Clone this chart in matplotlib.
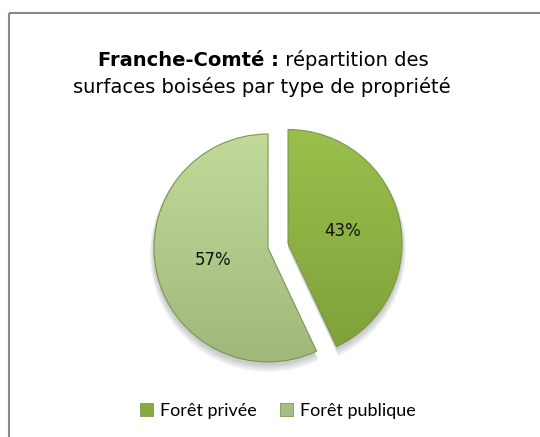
import matplotlib
matplotlib.use("Agg")
import matplotlib.pyplot as plt
import numpy as np
from matplotlib.patches import Patch
from matplotlib.colors import LinearSegmentedColormap

labels = ["Forêt privée", "Forêt publique"]
values = [43, 57]
pct_labels = ["43%", "57%"]
title_bold = "Franche-Comté :"
title_rest = " répartition des"
title_line2 = "surfaces boisées par type de propriété"

top_colors = ["#9cc04c", "#c3dc9a"]
bottom_colors = ["#7b9f38", "#9fb67a"]
legend_colors = ["#86ab40", "#a8bf84"]

W, H = 540, 437
fig = plt.figure(figsize=(W / 100, H / 100), dpi=100)
ax = fig.add_axes([0, 0, 1, 1])
ax.set_xlim(0, W)
ax.set_ylim(0, H)
ax.axis("off")

# frame
ax.plot([9, 9], [0, H - 13], color="#8a8a8a", lw=1.5, solid_capstyle="butt")
ax.plot([9, W], [H - 13, H - 13], color="#8a8a8a", lw=1.5, solid_capstyle="butt")

cx, cy, R = 268, H - 248, 114
expl = [0.18 * R, 0]

# soft shadow
for k in range(4):
    ax.pie(values, startangle=90, counterclock=False, explode=expl,
           radius=R + 1 + k, center=(cx, cy - 3 - k), frame=True,
           wedgeprops=dict(facecolor="#000000", alpha=0.05, linewidth=0))

wedges, texts, autotexts = ax.pie(
    values, startangle=90, counterclock=False, explode=expl,
    radius=R, center=(cx, cy), frame=True, autopct=lambda p: "",
    pctdistance=0.49,
    wedgeprops=dict(facecolor="none", linewidth=0.8, edgecolor="#7a9650"))

for w, t, tc, bc, at in zip(wedges, pct_labels, top_colors, bottom_colors, autotexts):
    cmap = LinearSegmentedColormap.from_list("g", [bc, tc])
    grad = np.linspace(0, 1, 256).reshape(-1, 1)
    im = ax.imshow(grad, cmap=cmap, origin="lower", aspect="auto",
                   extent=[cx - 2 * R, cx + 2 * R, cy - R - 10, cy + R + 10],
                   interpolation="bilinear", zorder=1)
    im.set_clip_path(w)
    w.set_zorder(2)
    at.set_text(t)
    at.set_fontsize(12)
    at.set_color("#111111")
    at.set_zorder(3)

ax.set_xlim(0, W)
ax.set_ylim(0, H)
ax.axis("off")

# title
fig.canvas.draw()
r = fig.canvas.get_renderer()
t1 = ax.text(0, H - 66, title_bold, fontsize=14, fontweight="bold", va="baseline", ha="left")
t2 = ax.text(0, H - 66, title_rest, fontsize=14, va="baseline", ha="left")
w1 = t1.get_window_extent(r).width
w2 = t2.get_window_extent(r).width
x0 = 263 - (w1 + w2) / 2
t1.set_x(x0)
t2.set_x(x0 + w1)
ax.text(262, H - 93, title_line2, fontsize=14, va="baseline", ha="center")

handles = [Patch(facecolor=c, edgecolor="#6f8a45", linewidth=0.5) for c in legend_colors]
fig.legend(handles, labels, loc="center", bbox_to_anchor=(278 / W, 1 - 411 / H),
           ncol=2, frameon=False, prop={"family": "Lato", "size": 13},
           handlelength=0.7, handleheight=0.7, handletextpad=0.4, columnspacing=1.3)

fig.savefig("out.png", dpi=100)
